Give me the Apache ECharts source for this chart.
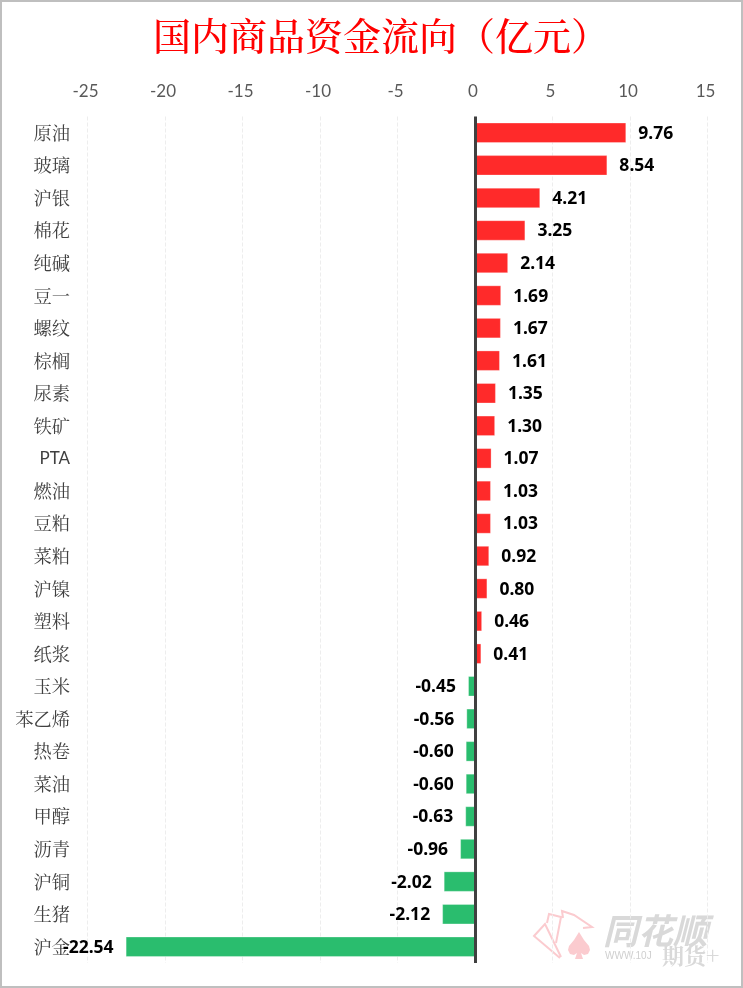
<!DOCTYPE html>
<html>
<head>
<meta charset="utf-8">
<style>
  html, body { margin: 0; padding: 0; background: #fff; }
  #main { width: 743px; height: 988px; }
</style>
<script src="https://cdn.jsdelivr.net/npm/echarts@6/dist/echarts.min.js"></script>
</head>
<body>
<div id="main"></div>
<script>
var title_text = '国内商品资金流向（亿元）';
var categories = ['原油', '玻璃', '沪银', '棉花', '纯碱', '豆一', '螺纹', '棕榈', '尿素', '铁矿', 'PTA', '燃油', '豆粕', '菜粕', '沪镍', '塑料', '纸浆', '玉米', '苯乙烯', '热卷', '菜油', '甲醇', '沥青', '沪铜', '生猪', '沪金'];
var values = [9.76, 8.54, 4.21, 3.25, 2.14, 1.69, 1.67, 1.61, 1.35, 1.30, 1.07, 1.03, 1.03, 0.92, 0.80, 0.46, 0.41, -0.45, -0.56, -0.60, -0.60, -0.63, -0.96, -2.02, -2.12, -22.54];

var red = '#FF2A2A';
var green = '#2ABD6E';
var serif = '"Noto Serif CJK SC", "Liberation Serif", "Noto Sans CJK SC", serif';
var pink = '#FBCBCF';

var myChart = echarts.init(document.getElementById('main'), null, { renderer: 'canvas' });

var bar_data = values.map(function (v) {
  return {
    value: v,
    itemStyle: { color: v >= 0 ? red : green },
    label: { position: v >= 0 ? 'right' : 'left' }
  };
});

// PTA is the only latin label, it uses the axis number font
var category_data = categories.map(function (c) {
  if (/^[A-Z]+$/.test(c)) {
    return { value: c, textStyle: { fontFamily: 'Lato', fontSize: 17 } };
  }
  return c;
});

// watermark, bottom right
function card_line(points) {
  return { type: 'polyline', shape: { points: points }, style: { fill: 'none', stroke: pink, lineWidth: 2 }, silent: true };
}

var watermark = [
  card_line([[560, 958], [534, 936], [545, 924], [561, 957]]),
  card_line([[547, 923], [549, 914], [561, 917], [556, 943]]),
  card_line([[563, 918], [562, 911], [574, 915], [592, 927], [583, 928]]),
  {
    type: 'polygon',
    shape: { points: [[579, 932], [574, 940], [569, 946], [568, 950], [570, 954], [574, 955], [577, 953], [575, 959], [583, 959], [581, 953], [584, 955], [588, 954], [590, 950], [589, 946], [584, 940]] },
    style: { fill: pink },
    silent: true
  },
  { type: 'text', x: 603, y: 913, style: { text: '同花顺', fill: '#D9D9D9', font: 'italic bold 35px "Noto Sans CJK SC"' }, silent: true },
  { type: 'text', x: 605, y: 951, style: { text: 'WWW.10J', fill: '#CFCFCF', font: '10px "Liberation Sans"' }, silent: true },
  { type: 'text', x: 662, y: 945, style: { text: '期货+', fill: '#D9D9D9', font: 'bold 22px "Noto Serif CJK SC"' }, silent: true }
];

var option = {
  animation: false,
  backgroundColor: '#fff',
  title: {
    text: title_text,
    left: 148,
    top: 12,
    textStyle: { color: '#FF0000', fontSize: 38, fontWeight: 500, fontFamily: serif }
  },
  grid: { left: 87.5, right: 35.5, top: 116.5, bottom: 25 },
  xAxis: {
    type: 'value',
    position: 'top',
    min: -25,
    max: 15,
    interval: 5,
    axisLine: { show: false },
    axisTick: { show: false },
    axisLabel: { color: '#595959', fontSize: 17, fontFamily: 'Lato', margin: 16, padding: [0, 4, 0, 0] },
    splitLine: { lineStyle: { color: '#EDEDED', type: 'dashed', width: 1 } }
  },
  yAxis: {
    type: 'category',
    inverse: true,
    data: category_data,
    axisLine: { show: false },
    axisTick: { show: false },
    axisLabel: { color: '#404040', fontSize: 18.3, fontFamily: serif, margin: 17.5 }
  },
  series: [{
    type: 'bar',
    data: bar_data,
    barWidth: 20.5,
    itemStyle: { borderColor: 'rgba(255,255,255,0.3)', borderWidth: 1 },
    label: {
      show: true,
      distance: 12,
      offset: [0, 1],
      color: '#000',
      fontSize: 17.5,
      fontWeight: 'bold',
      fontFamily: '"Noto Sans"',
      formatter: function (p) { return p.value.toFixed(2); }
    },
    markLine: {
      silent: true,
      symbol: 'none',
      label: { show: false },
      lineStyle: { color: '#404040', width: 3, type: 'solid' },
      data: [{ xAxis: 0 }]
    }
  }],
  graphic: watermark.concat([
    { type: 'rect', shape: { x: 1, y: 1, width: 741, height: 986 }, style: { fill: 'none', stroke: '#BFBFBF', lineWidth: 2 }, silent: true }
  ])
};

myChart.setOption(option);
</script>
</body>
</html>
